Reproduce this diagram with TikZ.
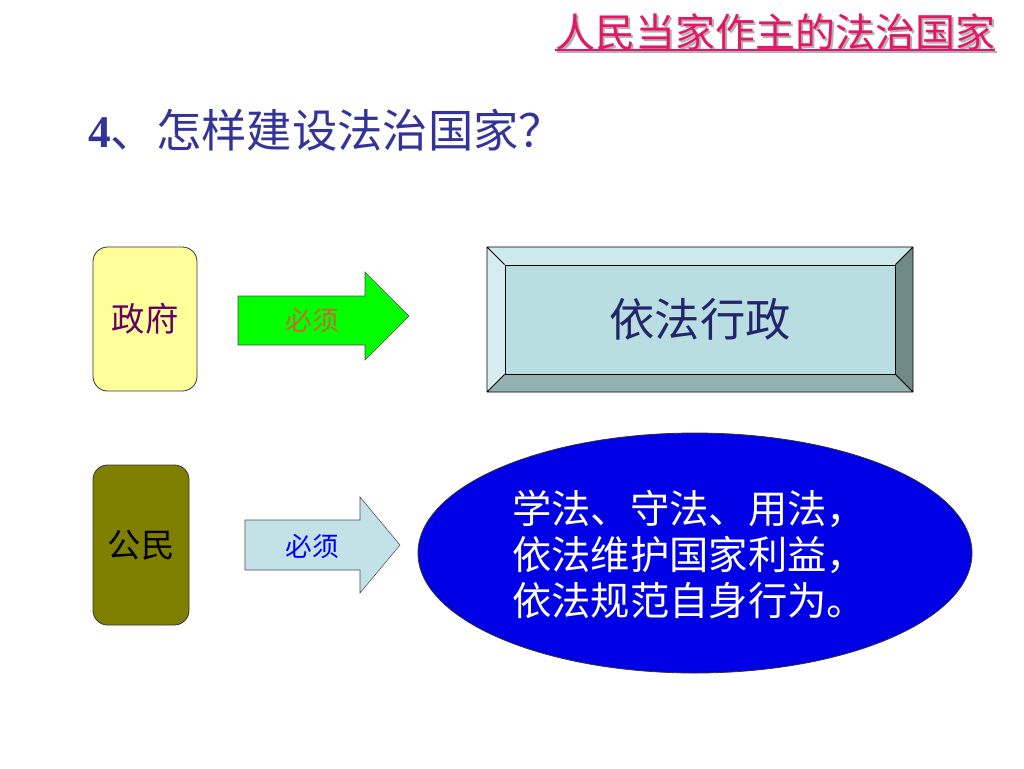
\documentclass[tikz,border=0pt]{standalone}
\usepackage{fontspec}
\setmainfont{Liberation Serif}
\newfontfamily\cjk{Noto Sans CJK SC}
\usepackage{tikz}
\usetikzlibrary{positioning, shapes.geometric}

\definecolor{headred}{RGB}{228,22,102}
\definecolor{titleblue}{RGB}{51,51,153}
\definecolor{govyellow}{RGB}{255,255,153}
\definecolor{govpurple}{RGB}{102,0,102}
\definecolor{citolive}{RGB}{128,128,0}
\definecolor{arrgreen}{RGB}{0,255,0}
\definecolor{arrorange}{RGB}{204,102,51}
\definecolor{arrcyan}{RGB}{194,226,232}
\definecolor{bevface}{RGB}{185,222,226}
\definecolor{bevtop}{RGB}{205,233,235}
\definecolor{bevleft}{RGB}{214,236,238}
\definecolor{bevright}{RGB}{111,136,136}
\definecolor{bevbottom}{RGB}{147,177,177}
\definecolor{ellblue}{RGB}{0,0,230}

\tikzset{
  actor/.style={draw=black!80, rounded corners=11pt, line width=0.6pt, font=\cjk\fontsize{25}{30}\selectfont},
  must/.style={font=\cjk\fontsize{20}{24}\selectfont},
}

\begin{document}
\begin{tikzpicture}[x=0.75pt, y=-0.75pt]
\useasboundingbox (0,0) rectangle (1024,768);

% header
\node[text=black!30] at (777,34) {\cjk\fontsize{30}{36}\selectfont 人民当家作主的法治国家};
\node[text=headred] (head) at (775,32) {\cjk\fontsize{30}{36}\selectfont 人民当家作主的法治国家};
\draw[black!30, line width=1.5pt] (557,52) -- (997,52);
\draw[headred, line width=1.5pt] (555,50) -- (995,50);

% question
\node[anchor=west, text=titleblue, inner sep=0pt] (ques) at (88,130)
  {\fontsize{34}{40}\selectfont\bfseries 4\cjk\mdseries 、怎样建设法治国家？};

% government
\node[actor, fill=govyellow, text=govpurple, minimum width=78pt, minimum height=108pt] (gov) at (145,319) {政府};
\draw[draw=black!70, fill=arrgreen] (238,296) -- (365,296) -- (365,272) -- (409,316)
  -- (365,360) -- (365,345) -- (238,345) -- cycle;
\node[must, text=arrorange] (mustgov) at (312,320) {必须};

% bevel box
\fill[bevtop] (487,247) -- (913,247) -- (895,265) -- (505,265) -- cycle;
\fill[bevleft] (487,247) -- (505,265) -- (505,374) -- (487,392) -- cycle;
\fill[bevright] (913,247) -- (913,392) -- (895,374) -- (895,265) -- cycle;
\fill[bevbottom] (487,392) -- (913,392) -- (895,374) -- (505,374) -- cycle;
\node[draw=black, fill=bevface, line width=0.6pt, minimum width=292.5pt, minimum height=81.75pt,
  text=titleblue!70!black, font=\cjk\fontsize{34}{40}\selectfont] (rule) at (700,319.5) {依法行政};
\draw[line width=0.6pt] (487,247) rectangle (913,392)
  (487,247) -- (rule.north west) (913,247) -- (rule.north east)
  (487,392) -- (rule.south west) (913,392) -- (rule.south east);

% citizen
\node[actor, fill=citolive, text=black, minimum width=72pt, minimum height=120pt] (cit) at (141,545) {公民};
\draw[draw=black!70, fill=arrcyan] (245,520) -- (360,520) -- (360,497) -- (400,545)
  -- (360,593) -- (360,570) -- (245,570) -- cycle;
\node[must, text=blue] (mustcit) at (312,546) {必须};

\node[ellipse, draw=black!80, fill=ellblue, line width=0.6pt, minimum width=415.5pt, minimum height=180pt] (duty) at (695,553) {};
\node[text=white, align=left, font=\cjk\fontsize{29.5}{34.5}\selectfont] (dutytext) at (689,555)
  {学法、守法、用法，\\依法维护国家利益，\\依法规范自身行为。};

\end{tikzpicture}
\end{document}
